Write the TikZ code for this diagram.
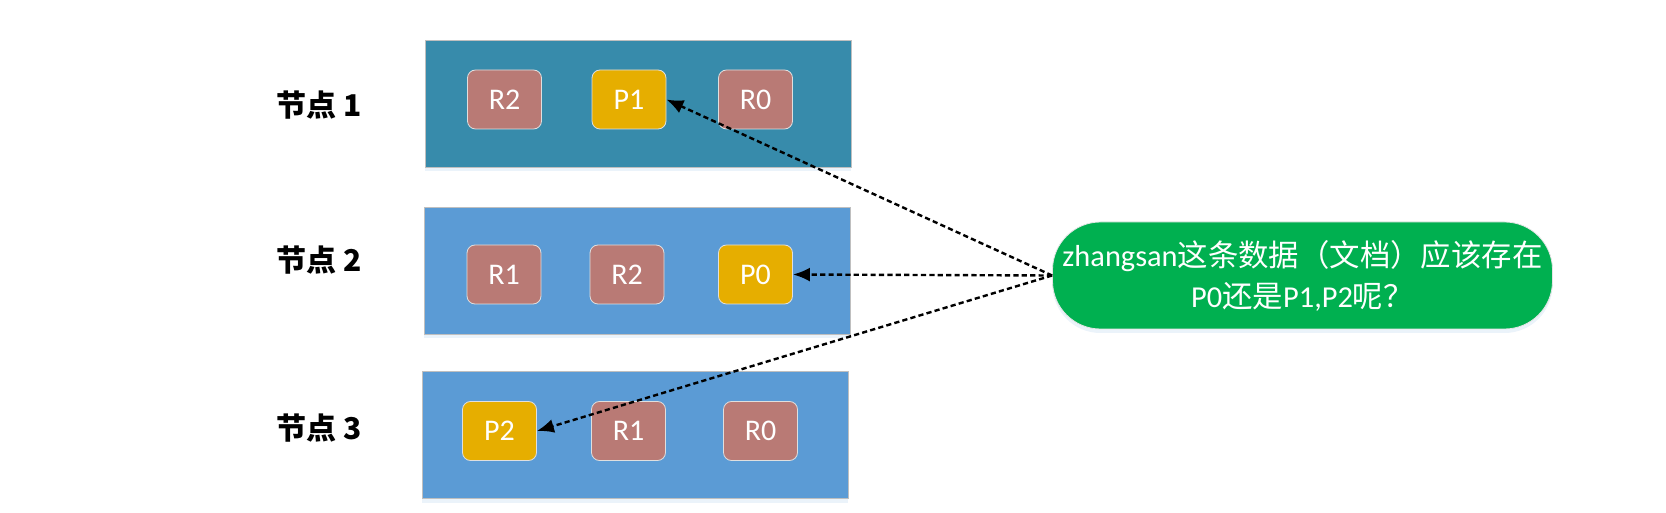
\documentclass[tikz,border=0pt]{standalone}
\usepackage{fontspec}
\setmainfont{Carlito}
\newfontfamily\cjk{Noto Sans CJK SC}
\usetikzlibrary{arrows.meta,shadows}

\definecolor{hosttop}{RGB}{55,139,171}
\definecolor{hostblue}{RGB}{91,155,213}
\definecolor{replica}{RGB}{185,122,117}
\definecolor{primary}{RGB}{230,174,0}
\definecolor{qgreen}{RGB}{0,176,80}

\begin{document}
\begin{tikzpicture}[x=0.5pt,y=-0.5pt,
    hnode/.style={draw=black!25, line width=0.4pt, minimum width=213pt, minimum height=63.5pt, inner sep=0pt,
                  drop shadow={shadow xshift=0pt, shadow yshift=-2pt, opacity=0.12, fill=hostblue}},
    rnode/.style={fill=replica, draw=white!75!gray, line width=0.4pt, rounded corners=4pt, minimum width=37pt,
                  minimum height=29.5pt, inner sep=0pt, text=white, font=\fontsize{15}{17}\selectfont},
    pnode/.style={rnode, fill=primary},
    lnode/.style={font=\cjk\bfseries\fontsize{15}{18}\selectfont},
    qnode/.style={fill=qgreen, draw=white!80!gray, line width=0.4pt, rounded corners=24pt, minimum width=250pt,
                  minimum height=53.5pt, inner sep=0pt, text=white, align=center,
                  font=\fontsize{15.2}{20.5}\selectfont,
                  drop shadow={shadow xshift=0pt, shadow yshift=-2pt, opacity=0.12, fill=hostblue}},
    ask/.style={-{Latex[length=8.5pt,width=7pt]}, dash pattern=on 2.6pt off 1.6pt, line width=1.2pt}]
    \useasboundingbox (0,0) rectangle (1666,513);

    \node[hnode, fill=hosttop] (h1) at (638,103.5) {};
    \node[hnode, fill=hostblue] (h2) at (637,271) {};
    \node[hnode, fill=hostblue] (h3) at (635,435) {};

    \node[lnode] (l1) at (319,105) {节点 1};
    \node[lnode] (l2) at (319,260) {节点 2};
    \node[lnode] (l3) at (319,428) {节点 3};

    \node[rnode] (1r2) at (504.5,99.5) {R2};
    \node[pnode] (1p1) at (629,99.5) {P1};
    \node[rnode] (1r0) at (755.5,99.5) {R0};

    \node[rnode] (2r1) at (504,274.5) {R1};
    \node[rnode] (2r2) at (627,274.5) {R2};
    \node[pnode] (2p0) at (755.5,274.5) {P0};

    \node[pnode] (3p2) at (499.5,431) {P2};
    \node[rnode] (3r1) at (628.5,431) {R1};
    \node[rnode] (3r0) at (760.5,431) {R0};

    \node[qnode] (q) at (1302.5,275.5) {zhangsan{\cjk 这条数据（文档）应该存在}\\P0{\cjk 还是}P1,P2{\cjk 呢？}};

    \draw[ask] (q.west) -- (1p1.east);
    \draw[ask] (q.west) -- (2p0.east);
    \draw[ask] (q.west) -- (3p2.east);
\end{tikzpicture}
\end{document}
